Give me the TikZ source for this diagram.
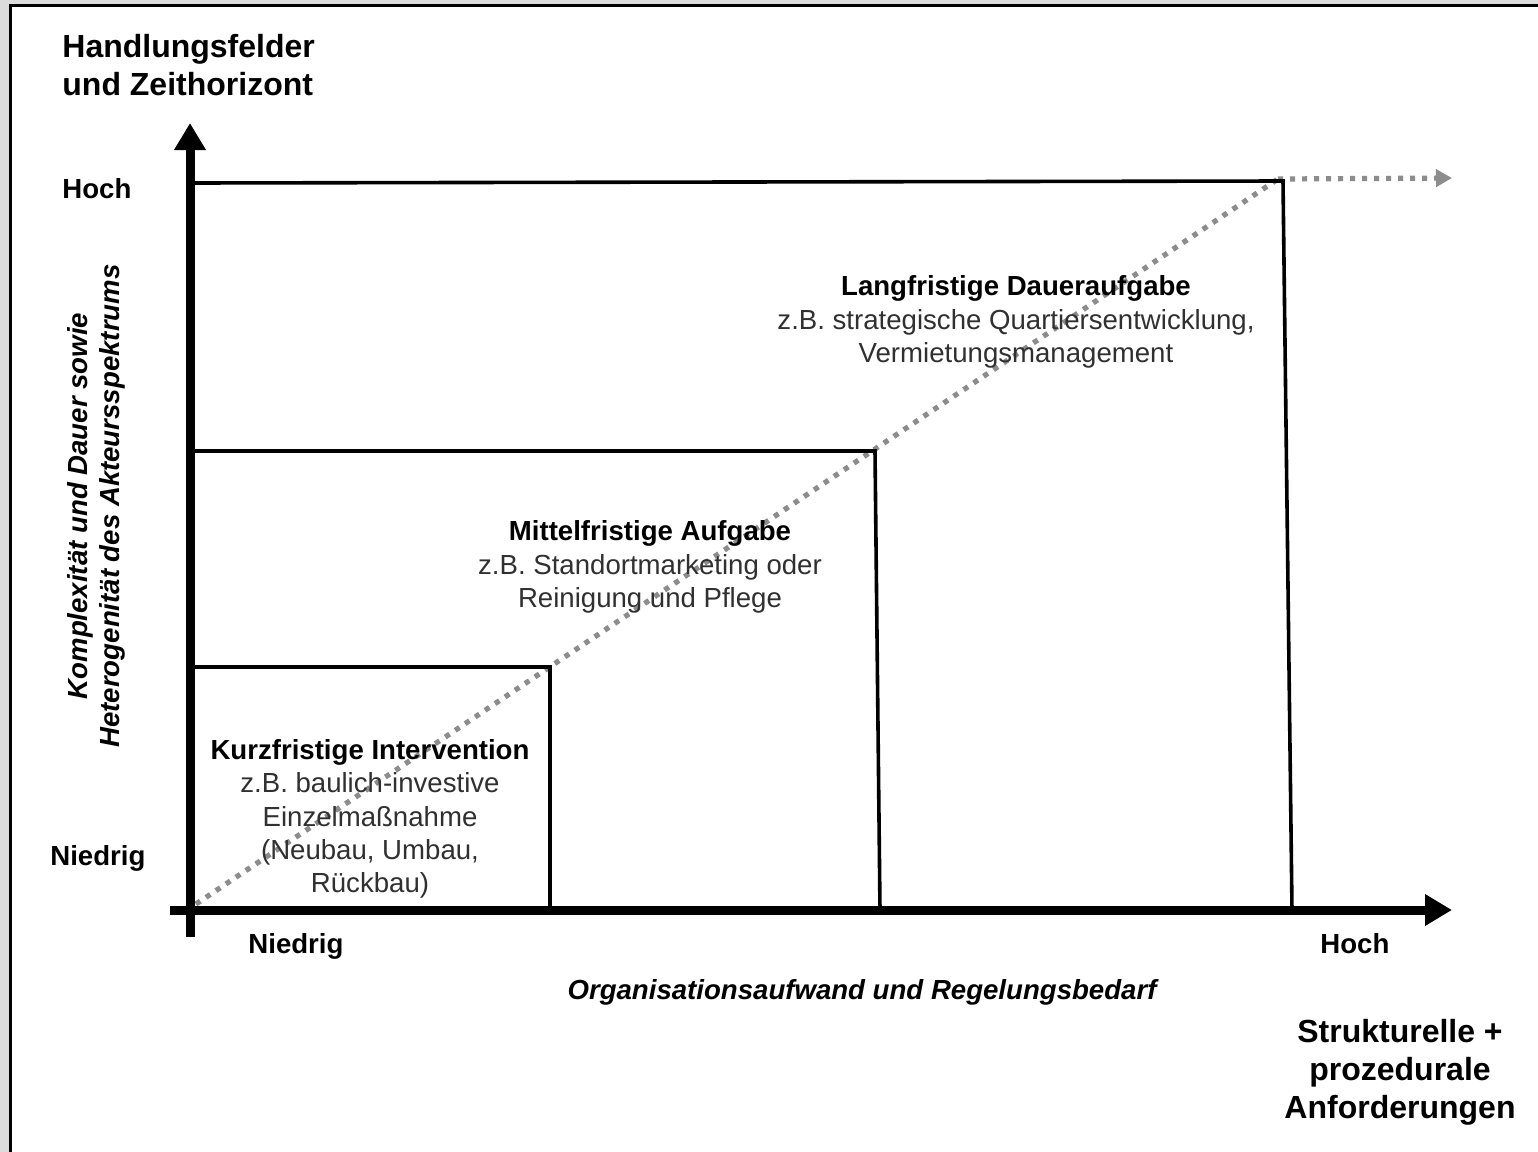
\documentclass[tikz,border=0pt]{standalone}
\usepackage{fontspec}
\setmainfont{Liberation Sans}
\usetikzlibrary{arrows.meta}
\definecolor{bodygray}{HTML}{303030}
\definecolor{dotgray}{HTML}{8C8C8C}
\definecolor{bggray}{HTML}{DCDCDC}
\tikzset{
  axisline/.style={line width=4.5pt, -{Triangle[length=13.5pt,width=15pt]}},
  boxline/.style={line width=1.8pt, line join=miter},
  dotline/.style={dotgray, line width=2.6pt, dash pattern=on 2.6pt off 3.4pt},
  headtxt/.style={font=\fontsize{16}{19}\selectfont\bfseries, align=center, inner sep=0pt},
  ticktxt/.style={font=\fontsize{13.8}{16.5}\selectfont\bfseries, inner sep=0pt},
  boxtxt/.style={font=\fontsize{13.8}{16.6}\selectfont, text=bodygray, align=center, inner sep=0pt},
  axtitle/.style={font=\fontsize{13.8}{16}\selectfont\bfseries\itshape, align=center, inner sep=0pt}
}
\begin{document}
\begin{tikzpicture}[x=0.5pt,y=-0.5pt]
\useasboundingbox (0,0) rectangle (1538,1152);
% background and frame
\fill[bggray] (0,0) rectangle (1538,1152);
\fill[white] (9,5) rectangle (1538,1152);
\draw[line width=1.5pt] (10,1152) -- (10,5.5) -- (1538,5.5);

% coordinates
\coordinate (yb) at (190,937);
\coordinate (yt) at (190,123);
\coordinate (xl) at (170,910);
\coordinate (xr) at (1452,910);
\coordinate (o) at (190,910);
\coordinate (d0) at (196,904);
\coordinate (d1) at (1278,179);
\coordinate (d2) at (1452,178);

% dotted diagonal
\draw[dotline] (d0) -- (d1);
\draw[dotline, -{Triangle[length=8pt,width=8.5pt]}] (d1) -- (d2);

% boxes
\draw[boxline] (190,667) -- (550,667) -- (550,910);
\draw[boxline] (190,451) -- (875,451) -- (880,910);
\draw[boxline] (190,183) -- (1283,181) -- (1292,910);

% axes
\draw[axisline] (yb) -- (yt);
\draw[axisline] (xl) -- (xr);

% texts
\node[headtxt, anchor=west, align=left] (title) at (62,65) {Handlungsfelder\\und Zeithorizont};
\node[ticktxt, anchor=west] (yhoch) at (62,189) {Hoch};
\node[ticktxt, anchor=west] (yniedrig) at (50,858) {Niedrig};
\node[ticktxt, anchor=west] (xniedrig) at (248,946) {Niedrig};
\node[ticktxt, anchor=west] (xhoch) at (1320,944) {Hoch};
\node[axtitle] (xtitle) at (862,992) {Organisationsaufwand und Regelungsbedarf};
\node[axtitle, rotate=90] (ytitle) at (96,506) {Komplexität und Dauer sowie\\Heterogenität des Akteursspektrums};
\node[headtxt] (anf) at (1400,1072) {Strukturelle +\\prozedurale\\Anforderungen};

\node[boxtxt] (kurz) at (370,819) {\textbf{\color{black}Kurzfristige Intervention}\\z.B. baulich-investive\\Einzelmaßnahme\\(Neubau, Umbau,\\Rückbau)};
\node[boxtxt] (mittel) at (650,567) {\textbf{\color{black}Mittelfristige Aufgabe}\\z.B. Standortmarketing oder\\Reinigung und Pflege};
\node[boxtxt] (lang) at (1016,322) {\textbf{\color{black}Langfristige Daueraufgabe}\\z.B. strategische Quartiersentwicklung,\\Vermietungsmanagement};
\end{tikzpicture}
\end{document}
